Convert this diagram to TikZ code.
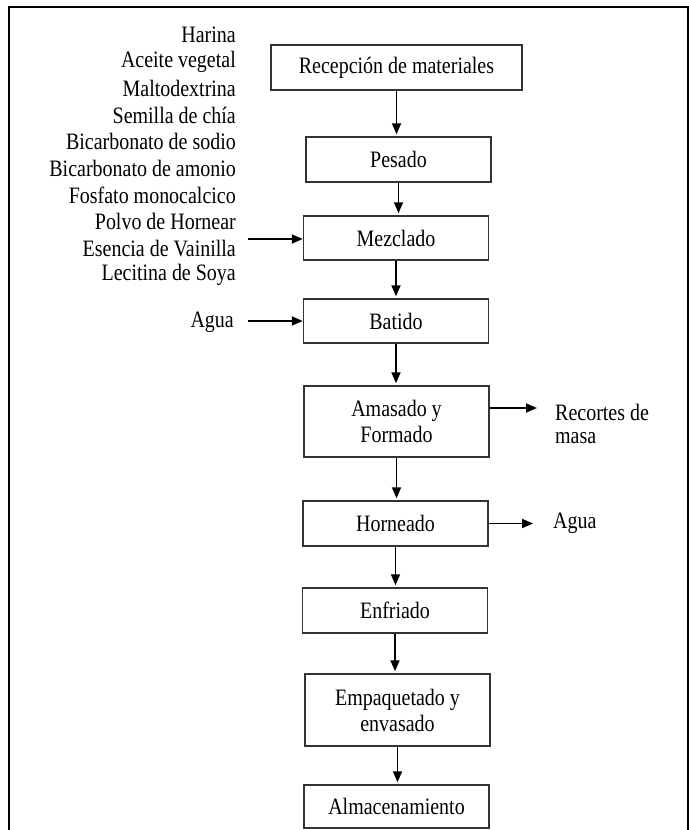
\documentclass[tikz,border=0pt]{standalone}
\usepackage{fontspec}
\setmainfont{Liberation Serif}[FakeStretch=0.85]
\usetikzlibrary{arrows.meta}

\begin{document}
\begin{tikzpicture}[x=1bp,y=-1bp,
  every node/.style={font=\fontsize{23.5bp}{26bp}\selectfont, text=black, inner sep=0pt},
  stage/.style={draw=black!80, line width=1.5bp, minimum width=185bp, align=center},
  flow/.style={line width=1.8bp, draw=black, -{Triangle[length=11bp,width=9bp]}},
  ingr/.style={anchor=east},
  outtxt/.style={anchor=west, align=left}]

  % canvas and frame
  \useasboundingbox (0,0) rectangle (689,830);
  \draw[line width=2.4bp] (9,830) -- (9,6.7) -- (688,6.7) -- (688,830);

  % process stages
  \node[stage, minimum width=251bp, minimum height=45bp] (rec) at (396.5,67.5) {Recepción de materiales};
  \node[stage, minimum height=45bp] (pes) at (398.5,159.5) {Pesado};
  \node[stage, minimum height=44bp] (mez) at (396,238) {Mezclado};
  \node[stage, minimum height=44bp] (bat) at (396,321) {Batido};
  \node[stage, minimum height=71bp] (ama) at (396.5,421.5) {Amasado y\\Formado};
  \node[stage, minimum height=45bp] (hor) at (395.5,523.5) {Horneado};
  \node[stage, minimum height=45bp] (enf) at (395,610.5) {Enfriado};
  \node[stage, minimum height=72bp] (emp) at (397.5,710) {Empaquetado y\\envasado};
  \node[stage, minimum height=43bp] (alm) at (396.5,806.5) {Almacenamiento};

  % main flow, straight down from each stage
  \foreach \a/\b in {rec/pes, pes/mez, mez/bat, bat/ama, ama/hor, hor/enf, enf/emp, emp/alm}
    \draw[flow, shorten >=2bp] (\a.south) -- (\a.south |- \b.north);

  % ingredients entering the mixing stage
  \node[ingr] (i1) at (236,35) {Harina};
  \node[ingr] (i2) at (236,61.7) {Aceite vegetal};
  \node[ingr] (i3) at (236,88.4) {Maltodextrina};
  \node[ingr] (i4) at (236,115.1) {Semilla de chía};
  \node[ingr] (i5) at (236,141.8) {Bicarbonato de sodio};
  \node[ingr] (i6) at (236,168.5) {Bicarbonato de amonio};
  \node[ingr] (i7) at (236,195.2) {Fosfato monocalcico};
  \node[ingr] (i8) at (236,221.9) {Polvo de Hornear};
  \node[ingr] (i9) at (236,248.6) {Esencia de Vainilla};
  \node[ingr] (i10) at (236,275.3) {Lecitina de Soya};
  \coordinate (minA) at (248,239);
  \draw[flow] (minA) -- (mez.west |- minA);

  % water entering the beating stage
  \node[ingr] (agua1) at (234,322) {Agua};
  \coordinate (minB) at (248,321);
  \draw[flow] (minB) -- (bat.west);

  % outputs
  \node[outtxt] (rc1) at (555,412) {Recortes de};
  \node[outtxt] (rc2) at (555,438) {masa};
  \coordinate (outA) at (537,408);
  \draw[flow] (ama.east |- outA) -- (outA);

  \node[outtxt] (agua2) at (553,523) {Agua};
  \coordinate (outB) at (533,523.5);
  \draw[flow] (hor.east) -- (outB);
\end{tikzpicture}
\end{document}
